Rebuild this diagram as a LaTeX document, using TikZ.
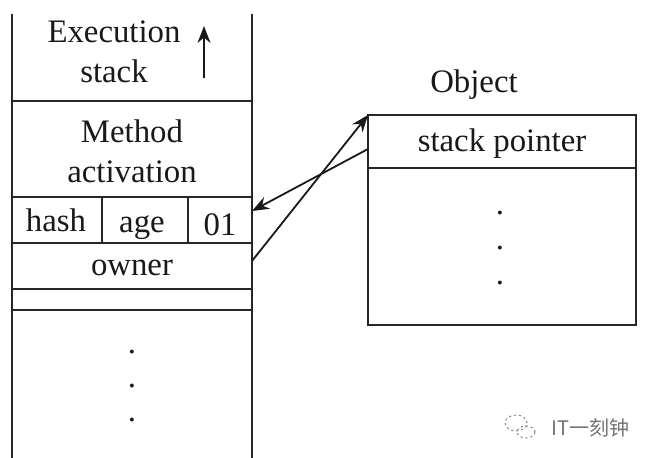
\documentclass[tikz,border=0pt]{standalone}
\usepackage{fontspec}
\setmainfont{Liberation Serif}
\newfontfamily\cjk{Noto Sans CJK SC}
\usetikzlibrary{arrows.meta}
\tikzset{
  ln/.style={draw=black!85,line width=1.8pt},
  thick ln/.style={draw=black!85,line width=2.8pt},
  lbl/.style={inner sep=0pt,font=\fontsize{32.8}{33}\selectfont,text=black!90,anchor=base},
  arr/.style={draw=black!90,line width=1.8pt,-{Stealth[length=17pt,width=13pt]}},
  mark wm/.style={draw=black!45,line width=1.1pt,dash pattern=on 2pt off 3pt}
}
\begin{document}
\begin{tikzpicture}[x=1pt,y=-1pt]
\useasboundingbox (0,0) rectangle (646,458);
\fill[white] (0,0) rectangle (646,458);
% stack
\draw[ln] (12,14) -- (12,458);
\draw[ln] (252,14) -- (252,458);
\draw[thick ln] (12,101) -- (252,101);
\draw[ln] (12,197) -- (252,197);
\draw[ln] (12,243) -- (252,243);
\draw[ln] (12,289) -- (252,289);
\draw[thick ln] (12,310) -- (252,310);
\draw[ln] (102,197) -- (102,243);
\draw[ln] (188,197) -- (188,243);
\node[lbl] (exec1) at (114,42) {Execution};
\node[lbl] (exec2) at (114,82) {stack};
\coordinate (upS) at (204,78);
\coordinate (upE) at (204,26);
\draw[arr] (upS) -- (upE);
\node[lbl] (meth1) at (132,142) {Method};
\node[lbl] (meth2) at (132,182) {activation};
\node[lbl] (hash) at (56,231) {hash};
\node[lbl] (age) at (142,232) {age};
\node[lbl] (zo) at (220,235) {01};
\node[lbl] (owner) at (132,275) {owner};
\node[lbl] at (132,353) (d1) {.};
\node[lbl] at (132,387) (d2) {.};
\node[lbl] at (132,421) (d3) {.};
\coordinate (ownerR) at (252,261);
\coordinate (markR) at (252,211);
% object
\node[lbl] (objT) at (474,92) {Object};
\draw[ln] (368,115) rectangle (636,325);
\draw[ln] (368,168) -- (636,168);
\node[lbl] (sp) at (502,151) {stack pointer};
\node[lbl] (o1) at (500,214) {.};
\node[lbl] (o2) at (500,249) {.};
\node[lbl] (o3) at (500,284) {.};
\coordinate (objL) at (368,115);
\coordinate (spL) at (368,149);
\draw[arr] (ownerR) -- (objL);
\draw[arr] (spL) -- (markR);
% watermark
\node[inner sep=0pt,anchor=west,text=black!55,font=\fontsize{20}{20}\cjk] (wm) at (551,428) {IT一刻钟};
\draw[mark wm] (516,423) ellipse (11pt and 8pt);
\draw[mark wm] (526,432) ellipse (9pt and 6pt);
\end{tikzpicture}
\end{document}
